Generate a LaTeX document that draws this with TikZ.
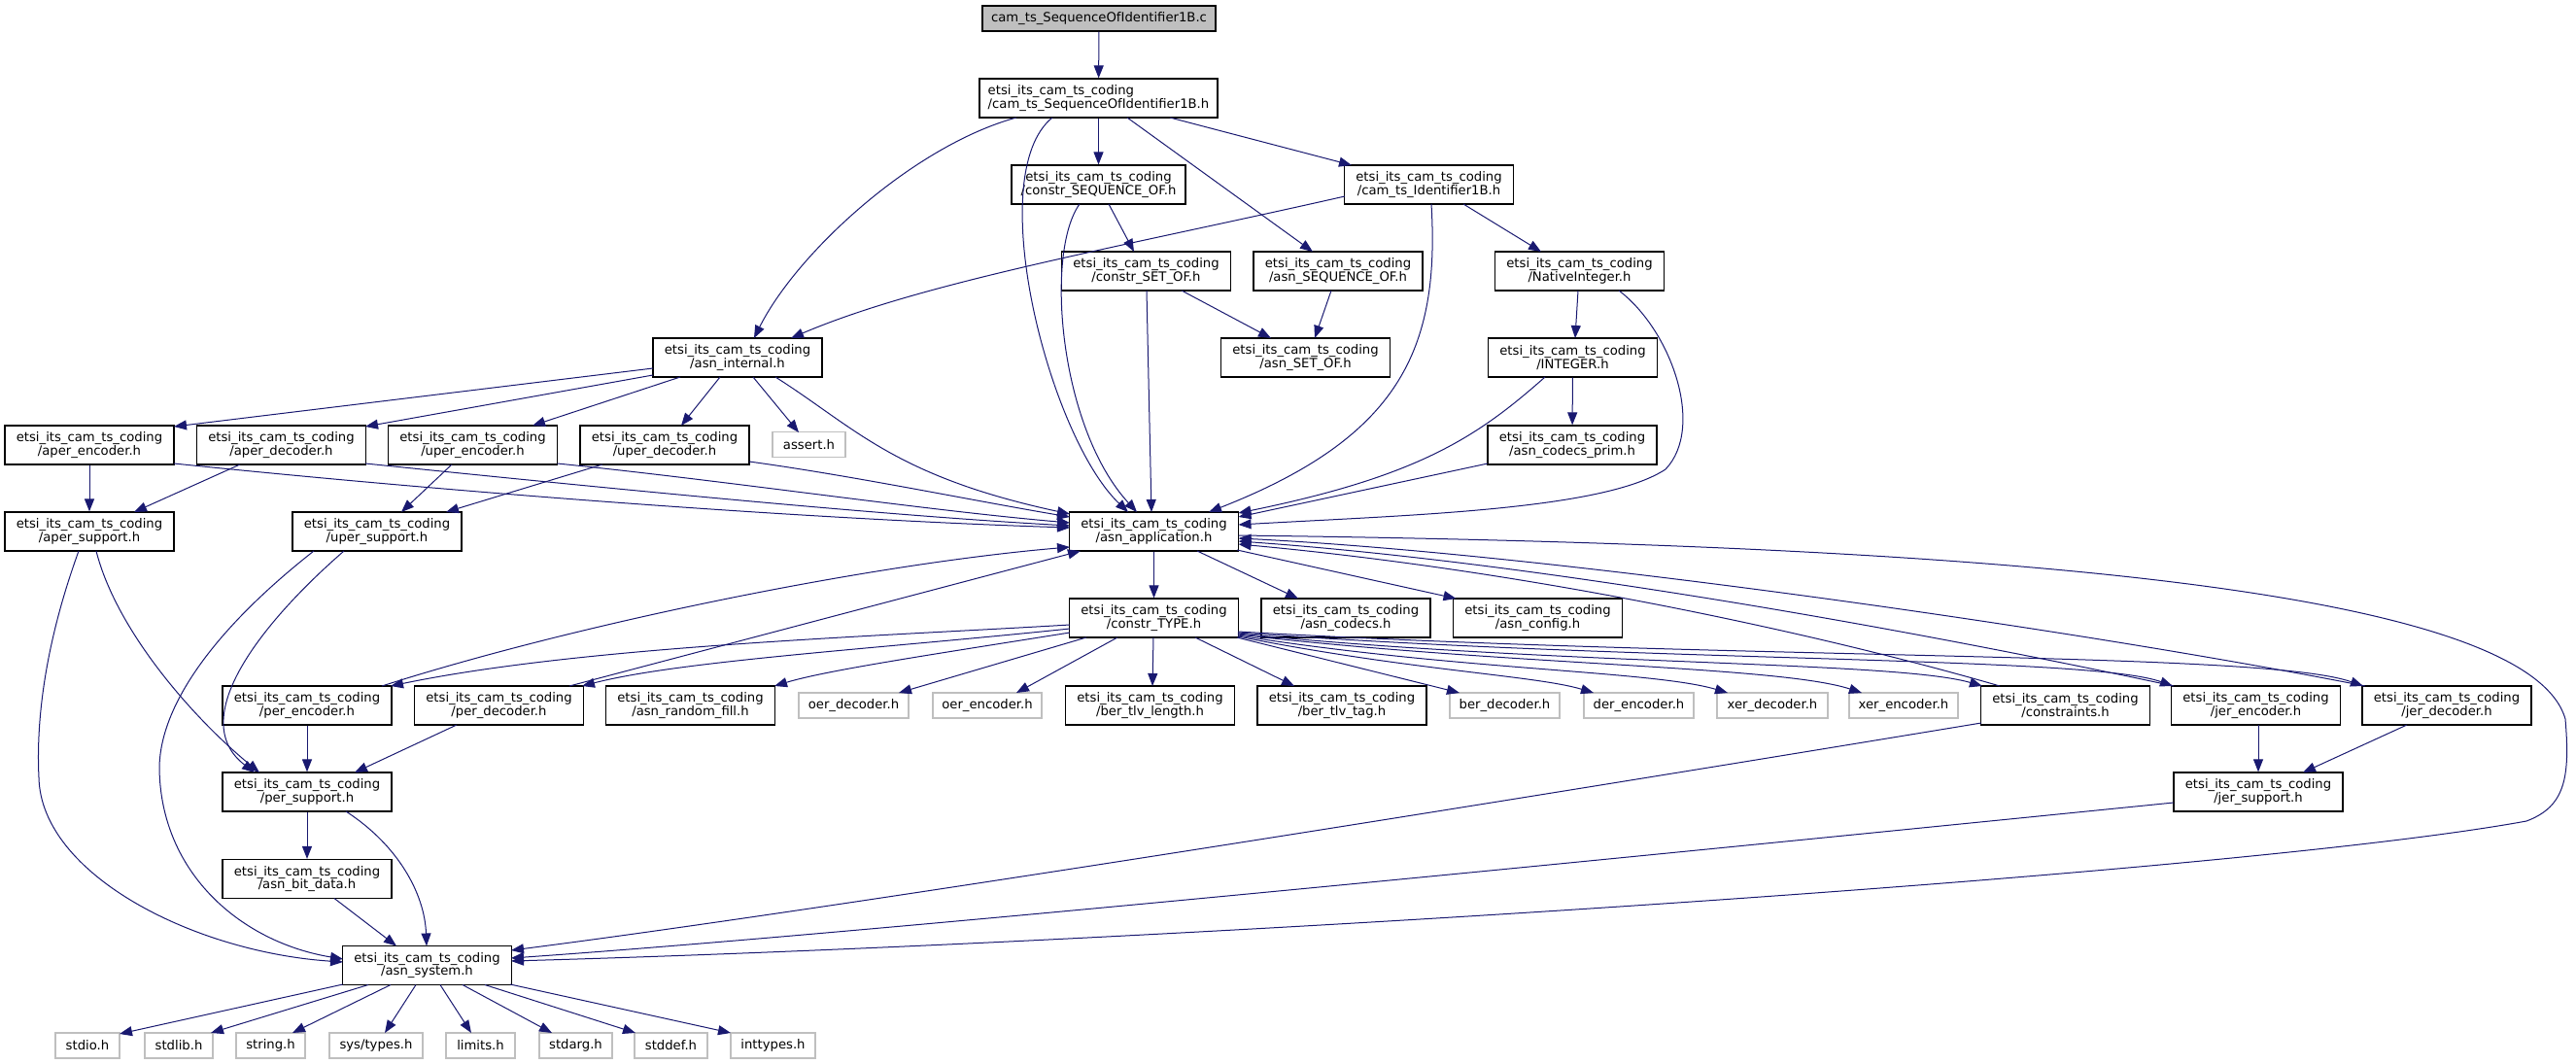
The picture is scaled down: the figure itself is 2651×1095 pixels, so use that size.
\documentclass[tikz,border=0pt]{standalone}
\usepackage{fontspec}
\setmainfont{DejaVu Sans}
\usetikzlibrary{calc,arrows.meta}
\definecolor{edgec}{HTML}{191970}
\definecolor{grayb}{HTML}{BFBFBF}
\begin{document}
\begin{tikzpicture}[x=1pt,y=-1pt,
  txt/.style={font=\fontsize{13.2}{13.6}\selectfont},
  hbox/.style={txt,draw=black,line width=1.2pt,fill=white,inner sep=0pt,minimum width=174pt,minimum height=40pt,align=center},
  sbox/.style={txt,draw=grayb,line width=1.2pt,fill=white,inner sep=0pt,minimum height=26pt},
  conn/.style={draw=edgec,line width=1pt,-{Triangle[length=13pt,width=10pt]}}]
\useasboundingbox (0,0) rectangle (2651,1095);
% nodes
\node[hbox,fill=grayb,minimum width=240pt,minimum height=26pt] (top) at (1131,19) {cam\_ts\_SequenceOfIdentifier1B.c};
\node[hbox,minimum width=245pt,align=left] (seqof) at (1130.5,101) {etsi\_its\_cam\_ts\_coding\\/cam\_ts\_SequenceOfIdentifier1B.h};
\node[hbox,minimum width=179pt] (cseqof) at (1130.5,190) {etsi\_its\_cam\_ts\_coding\\/constr\_SEQUENCE\_OF.h};
\node[hbox] (camid) at (1470.5,190) {etsi\_its\_cam\_ts\_coding\\/cam\_ts\_Identifier1B.h};
\node[hbox] (csetof) at (1179.5,279) {etsi\_its\_cam\_ts\_coding\\/constr\_SET\_OF.h};
\node[hbox] (aseqof) at (1377,279) {etsi\_its\_cam\_ts\_coding\\/asn\_SEQUENCE\_OF.h};
\node[hbox] (native) at (1625.5,279) {etsi\_its\_cam\_ts\_coding\\/NativeInteger.h};
\node[hbox] (internal) at (759,368) {etsi\_its\_cam\_ts\_coding\\/asn\_internal.h};
\node[hbox] (asetof) at (1343.5,368) {etsi\_its\_cam\_ts\_coding\\/asn\_SET\_OF.h};
\node[hbox] (integer) at (1618.5,368) {etsi\_its\_cam\_ts\_coding\\/INTEGER.h};
\node[hbox] (aperenc) at (92,458) {etsi\_its\_cam\_ts\_coding\\/aper\_encoder.h};
\node[hbox] (aperdec) at (289.5,458) {etsi\_its\_cam\_ts\_coding\\/aper\_decoder.h};
\node[hbox] (uperenc) at (486.5,458) {etsi\_its\_cam\_ts\_coding\\/uper\_encoder.h};
\node[hbox] (uperdec) at (684,458) {etsi\_its\_cam\_ts\_coding\\/uper\_decoder.h};
\node[sbox,minimum width=75pt] (assert) at (832.5,457.5) {assert.h};
\node[hbox] (prim) at (1618,458) {etsi\_its\_cam\_ts\_coding\\/asn\_codecs\_prim.h};
\node[hbox] (apersup) at (92,547) {etsi\_its\_cam\_ts\_coding\\/aper\_support.h};
\node[hbox] (upersup) at (388,547) {etsi\_its\_cam\_ts\_coding\\/uper\_support.h};
\node[hbox] (app) at (1187.5,547) {etsi\_its\_cam\_ts\_coding\\/asn\_application.h};
\node[hbox] (ctype) at (1187.5,636) {etsi\_its\_cam\_ts\_coding\\/constr\_TYPE.h};
\node[hbox] (codecs) at (1385,636) {etsi\_its\_cam\_ts\_coding\\/asn\_codecs.h};
\node[hbox] (config) at (1582.5,636) {etsi\_its\_cam\_ts\_coding\\/asn\_config.h};
\node[hbox] (perenc) at (316,726) {etsi\_its\_cam\_ts\_coding\\/per\_encoder.h};
\node[hbox] (perdec) at (513.5,726) {etsi\_its\_cam\_ts\_coding\\/per\_decoder.h};
\node[hbox] (rfill) at (710.5,726) {etsi\_its\_cam\_ts\_coding\\/asn\_random\_fill.h};
\node[sbox,minimum width=113pt] (oerdec) at (878.5,726) {oer\_decoder.h};
\node[sbox,minimum width=112pt] (oerenc) at (1016,726) {oer\_encoder.h};
\node[hbox] (btlen) at (1183.5,726) {etsi\_its\_cam\_ts\_coding\\/ber\_tlv\_length.h};
\node[hbox] (bttag) at (1381,726) {etsi\_its\_cam\_ts\_coding\\/ber\_tlv\_tag.h};
\node[sbox,minimum width=113pt] (berdec) at (1548.5,726) {ber\_decoder.h};
\node[sbox,minimum width=113pt] (derenc) at (1686.5,726) {der\_encoder.h};
\node[sbox,minimum width=114pt] (xerdec) at (1824,726) {xer\_decoder.h};
\node[sbox,minimum width=112pt] (xerenc) at (1959,726) {xer\_encoder.h};
\node[hbox] (constr) at (2125.5,726) {etsi\_its\_cam\_ts\_coding\\/constraints.h};
\node[hbox] (jerenc) at (2321.5,726) {etsi\_its\_cam\_ts\_coding\\/jer\_encoder.h};
\node[hbox] (jerdec) at (2518,726) {etsi\_its\_cam\_ts\_coding\\/jer\_decoder.h};
\node[hbox] (persup) at (316,815) {etsi\_its\_cam\_ts\_coding\\/per\_support.h};
\node[hbox] (jersup) at (2324,815) {etsi\_its\_cam\_ts\_coding\\/jer\_support.h};
\node[hbox] (bitdata) at (316,904.5) {etsi\_its\_cam\_ts\_coding\\/asn\_bit\_data.h};
\node[hbox] (system) at (439.5,993.5) {etsi\_its\_cam\_ts\_coding\\/asn\_system.h};
\node[sbox,minimum width=66pt] (stdio) at (90,1076) {stdio.h};
\node[sbox,minimum width=70pt] (stdlib) at (184,1076) {stdlib.h};
\node[sbox,minimum width=71pt] (string) at (278.5,1076) {string.h};
\node[sbox,minimum width=96pt] (systypes) at (387,1076) {sys/types.h};
\node[sbox,minimum width=71pt] (limits) at (494.5,1076) {limits.h};
\node[sbox,minimum width=75pt] (stdarg) at (592.5,1076) {stdarg.h};
\node[sbox,minimum width=75pt] (stddef) at (690.5,1076) {stddef.h};
\node[sbox,minimum width=87pt] (inttypes) at (795.5,1076) {inttypes.h};
% edges
\draw[conn] (top) -- (seqof);
\draw[conn] ($(seqof)+(-84.5,20)$) .. controls (940,150) and (820,260) .. ($(internal)+(17,-20)$);
\draw[conn] ($(seqof)+(-47.5,20)$) .. controls (1010,180) and (1080,450) .. ($(app)+(-26.5,-20)$);
\draw[conn] (seqof) -- (cseqof);
\draw[conn] ($(seqof)+(29.5,20)$) -- ($(aseqof)+(-26,-20)$);
\draw[conn] ($(seqof)+(73.5,20)$) -- ($(camid)+(-79.5,-20)$);
\draw[conn] ($(cseqof)+(10.5,20)$) -- ($(csetof)+(-12.5,-20)$);
\draw[conn] ($(cseqof)+(-19.5,20)$) .. controls (1075,260) and (1090,440) .. ($(app)+(-17.5,-20)$);
\draw[conn] ($(csetof)+(36.5,20)$) -- ($(asetof)+(-35.5,-20)$);
\draw[conn] ($(csetof)+(0.5,20)$) -- ($(app)+(-2.5,-20)$);
\draw[conn] ($(aseqof)+(-7,20)$) -- ($(asetof)+(9.5,-20)$);
\draw[conn] ($(camid)+(-86.5,12)$) .. controls (1150,255) and (950,290) .. ($(internal)+(55,-20)$);
\draw[conn] ($(camid)+(2.5,20)$) .. controls (1482,360) and (1440,450) .. ($(app)+(56.5,-20)$);
\draw[conn] ($(camid)+(35.5,20)$) -- ($(native)+(-39.5,-20)$);
\draw[conn] ($(native)+(-1.5,20)$) -- ($(integer)+(2.5,-20)$);
\draw[conn] ($(native)+(40.5,20)$) .. controls (1720,340) and (1755,440) .. (1714,483) .. controls (1650,525) and (1450,530) .. ($(app)+(87,-7)$);
\draw[conn] (integer) -- (prim);
\draw[conn] ($(integer)+(-28.5,20)$) .. controls (1520,450) and (1460,490) .. ($(app)+(87,-19)$);
\draw[conn] ($(prim)+(-87,19)$) -- ($(app)+(87,-15)$);
% asn_internal
\draw[conn] ($(internal)+(-87,11)$) -- ($(aperenc)+(87,-19)$);
\draw[conn] ($(internal)+(-87,18)$) -- ($(aperdec)+(86.5,-19)$);
\draw[conn] ($(internal)+(-59,20)$) -- ($(uperenc)+(61.5,-20)$);
\draw[conn] ($(internal)+(-18,20)$) -- ($(uperdec)+(17,-20)$);
\draw[conn] ($(internal)+(16,20)$) -- ($(assert)+(-10.5,-12.5)$);
\draw[conn] ($(internal)+(39,20)$) .. controls (880,440) and (920,490) .. ($(app)+(-86.5,-18)$);
% aper/uper
\draw[conn] (aperenc) -- (apersup);
\draw[conn] ($(aperenc)+(87,19)$) .. controls (500,510) and (850,535) .. ($(app)+(-86.5,-4)$);
\draw[conn] ($(aperdec)+(-42.5,20)$) -- ($(apersup)+(46,-20)$);
\draw[conn] ($(aperdec)+(86.5,19)$) .. controls (600,500) and (900,530) .. ($(app)+(-86.5,-6)$);
\draw[conn] ($(uperenc)+(-21.5,20)$) -- ($(upersup)+(25,-20)$);
\draw[conn] ($(uperenc)+(87,19)$) .. controls (750,495) and (950,525) .. ($(app)+(-86.5,-9)$);
\draw[conn] ($(uperdec)+(-64,20)$) -- ($(upersup)+(71,-20)$);
\draw[conn] ($(uperdec)+(87,17)$) .. controls (880,490) and (1000,515) .. ($(app)+(-86.5,-15)$);
\draw[conn] ($(apersup)+(7,20)$) .. controls (120,650) and (200,740) .. ($(persup)+(-49,-20)$);
\draw[conn] ($(apersup)+(-11,20)$) .. controls (40,680) and (38,760) .. (40,800) .. controls (42,900) and (200,980) .. ($(system)+(-86.5,-3.5)$);
\draw[conn] ($(upersup)+(-34,20)$) .. controls (270,640) and (190,740) .. ($(persup)+(-54,-20)$);
\draw[conn] ($(upersup)+(-65,20)$) .. controls (230,640) and (165,720) .. (164,790) .. controls (165,900) and (250,970) .. ($(system)+(-86.5,-6.5)$);
% asn_application
\draw[conn] (app) -- (ctype);
\draw[conn] ($(app)+(44.5,20)$) -- ($(codecs)+(-49,-20)$);
\draw[conn] ($(app)+(85.5,19)$) -- ($(config)+(-84,-20)$);
\draw[conn] ($(app)+(87,4)$) .. controls (2000,560) and (2600,600) .. (2640,740) .. controls (2645,800) and (2640,830) .. (2600,845) .. controls (2300,900) and (1200,970) .. ($(system)+(86.5,-4.5)$);
\draw[conn] ($(perenc)+(77,-20)$) .. controls (600,640) and (900,580) .. ($(app)+(-86.5,16)$);
\draw[conn] ($(perdec)+(72.5,-20)$) -- ($(app)+(-75.5,20)$);
\draw[conn] ($(constr)+(-67.5,-20)$) .. controls (1900,660) and (1600,590) .. ($(app)+(87,13)$);
\draw[conn] ($(jerenc)+(-84.5,-20)$) .. controls (2000,655) and (1600,580) .. ($(app)+(87,10)$);
\draw[conn] ($(jerdec)+(-84,-20)$) .. controls (2150,650) and (1600,570) .. ($(app)+(87,7)$);
% constr_TYPE
\draw[conn] ($(ctype)+(-86.5,7)$) .. controls (900,655) and (600,665) .. ($(perenc)+(86,-20)$);
\draw[conn] ($(ctype)+(-86.5,11)$) .. controls (900,668) and (700,680) .. ($(perdec)+(85.5,-20)$);
\draw[conn] ($(ctype)+(-86.5,15)$) .. controls (950,675) and (850,690) .. ($(rfill)+(86.5,-20)$);
\draw[conn] ($(ctype)+(-69.5,20)$) -- ($(oerdec)+(46.5,-13)$);
\draw[conn] ($(ctype)+(-37.5,20)$) -- ($(oerenc)+(30,-13)$);
\draw[conn] ($(ctype)+(-0.5,20)$) -- ($(btlen)+(2.5,-20)$);
\draw[conn] ($(ctype)+(42.5,20)$) -- ($(bttag)+(-49,-20)$);
\draw[conn] ($(ctype)+(85.5,20)$) -- ($(berdec)+(-46.5,-13)$);
\draw[conn] ($(ctype)+(86.5,19)$) .. controls (1450,690) and (1580,695) .. ($(derenc)+(-46.5,-13)$);
\draw[conn] ($(ctype)+(86.5,18)$) .. controls (1500,690) and (1700,690) .. ($(xerdec)+(-46,-13)$);
\draw[conn] ($(ctype)+(86.5,17)$) .. controls (1550,685) and (1830,685) .. ($(xerenc)+(-43,-13)$);
\draw[conn] ($(ctype)+(86.5,16)$) .. controls (1600,685) and (1950,680) .. ($(constr)+(-85.5,-20)$);
\draw[conn] ($(ctype)+(86.5,15)$) .. controls (1700,682) and (2150,675) .. ($(jerenc)+(-85.5,-20)$);
\draw[conn] ($(ctype)+(86.5,14)$) .. controls (1800,680) and (2330,670) .. ($(jerdec)+(-86,-20)$);
% lower part
\draw[conn] (perenc) -- (persup);
\draw[conn] ($(perdec)+(-43.5,20)$) -- ($(persup)+(49,-20)$);
\draw[conn] (persup) -- (bitdata);
\draw[conn] ($(persup)+(40,20)$) .. controls (410,870) and (437,920) .. ($(system)+(-0.5,-20)$);
\draw[conn] ($(bitdata)+(28,20)$) -- ($(system)+(-31.5,-20)$);
\draw[conn] ($(constr)+(-86.5,18)$) .. controls (1700,800) and (900,930) .. ($(system)+(86.5,-15.5)$);
\draw[conn] ($(jersup)+(-87,11)$) .. controls (1700,880) and (900,960) .. ($(system)+(86.5,-7.5)$);
\draw[conn] ($(jerenc)+(2.5,20)$) -- (jersup);
\draw[conn] ($(jerdec)+(-41,20)$) -- ($(jersup)+(46,-20)$);
% asn_system children
\draw[conn] ($(system)+(-86.5,19.5)$) -- ($(stdio)+(33,-12)$);
\draw[conn] ($(system)+(-60.5,20)$) -- ($(stdlib)+(33,-13)$);
\draw[conn] ($(system)+(-37.5,20)$) -- ($(string)+(22.5,-13)$);
\draw[conn] ($(system)+(-11.5,20)$) -- ($(systypes)+(9,-13)$);
\draw[conn] ($(system)+(13.5,20)$) -- ($(limits)+(-9.5,-13)$);
\draw[conn] ($(system)+(36.5,20)$) -- ($(stdarg)+(-24.5,-13)$);
\draw[conn] ($(system)+(59.5,20)$) -- ($(stddef)+(-36.5,-13)$);
\draw[conn] ($(system)+(85.5,19.5)$) -- ($(inttypes)+(-43.5,-13)$);
\end{tikzpicture}
\end{document}
